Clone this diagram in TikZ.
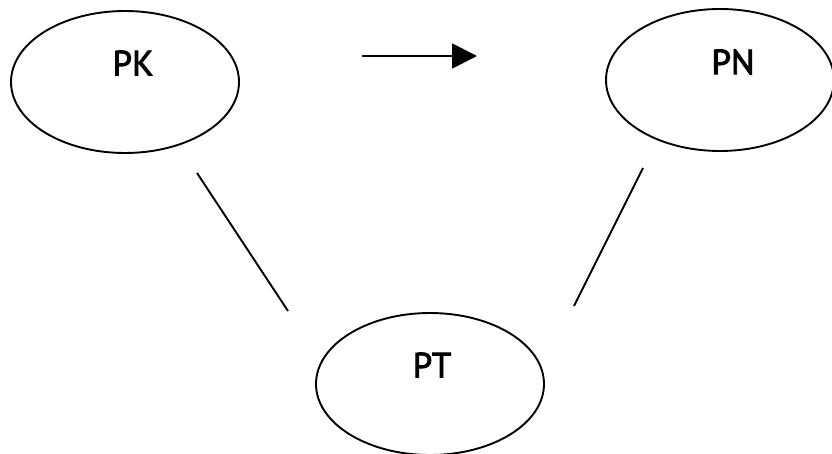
\documentclass[tikz,border=0pt]{standalone}
\usepackage{fontspec}
\newfontfamily\lblfont{PT Sans}
\newcommand\thicktext[1]{\special{pdf:literal 2 Tr 0.9 w}#1\special{pdf:literal 0 Tr}}
\usetikzlibrary{shapes.geometric,arrows.meta}
\begin{document}
\begin{tikzpicture}[x=1pt,y=-1pt,
  oval/.style={draw,ellipse,line width=1.9pt,minimum width=228pt,minimum height=142pt,inner sep=0pt},
  lbl/.style={font=\lblfont\fontsize{35}{40}\selectfont,inner sep=0pt},
  conn/.style={line width=1.9pt}]
\useasboundingbox (0,0) rectangle (832,454);
\node[oval] (pk) at (125,82) {};
\node[lbl] (pkl) at (133,63) {\thicktext{PK}};
\node[oval] (pn) at (720,80) {};
\node[lbl] (pnl) at (733,62) {\thicktext{PN}};
\node[oval] (pt) at (430,384) {};
\node[lbl] (ptl) at (432,365) {\thicktext{PT}};
\coordinate (a1) at (362,56);
\coordinate (a2) at (477,56);
\draw[conn,-{Triangle[length=25pt,width=25pt]}] (a1) -- (a2);
\coordinate (l1) at (197,173);
\coordinate (l2) at (288,311);
\draw[conn] (l1) -- (l2);
\coordinate (r1) at (643,168);
\coordinate (r2) at (574,306);
\draw[conn] (r1) -- (r2);
\end{tikzpicture}
\end{document}
